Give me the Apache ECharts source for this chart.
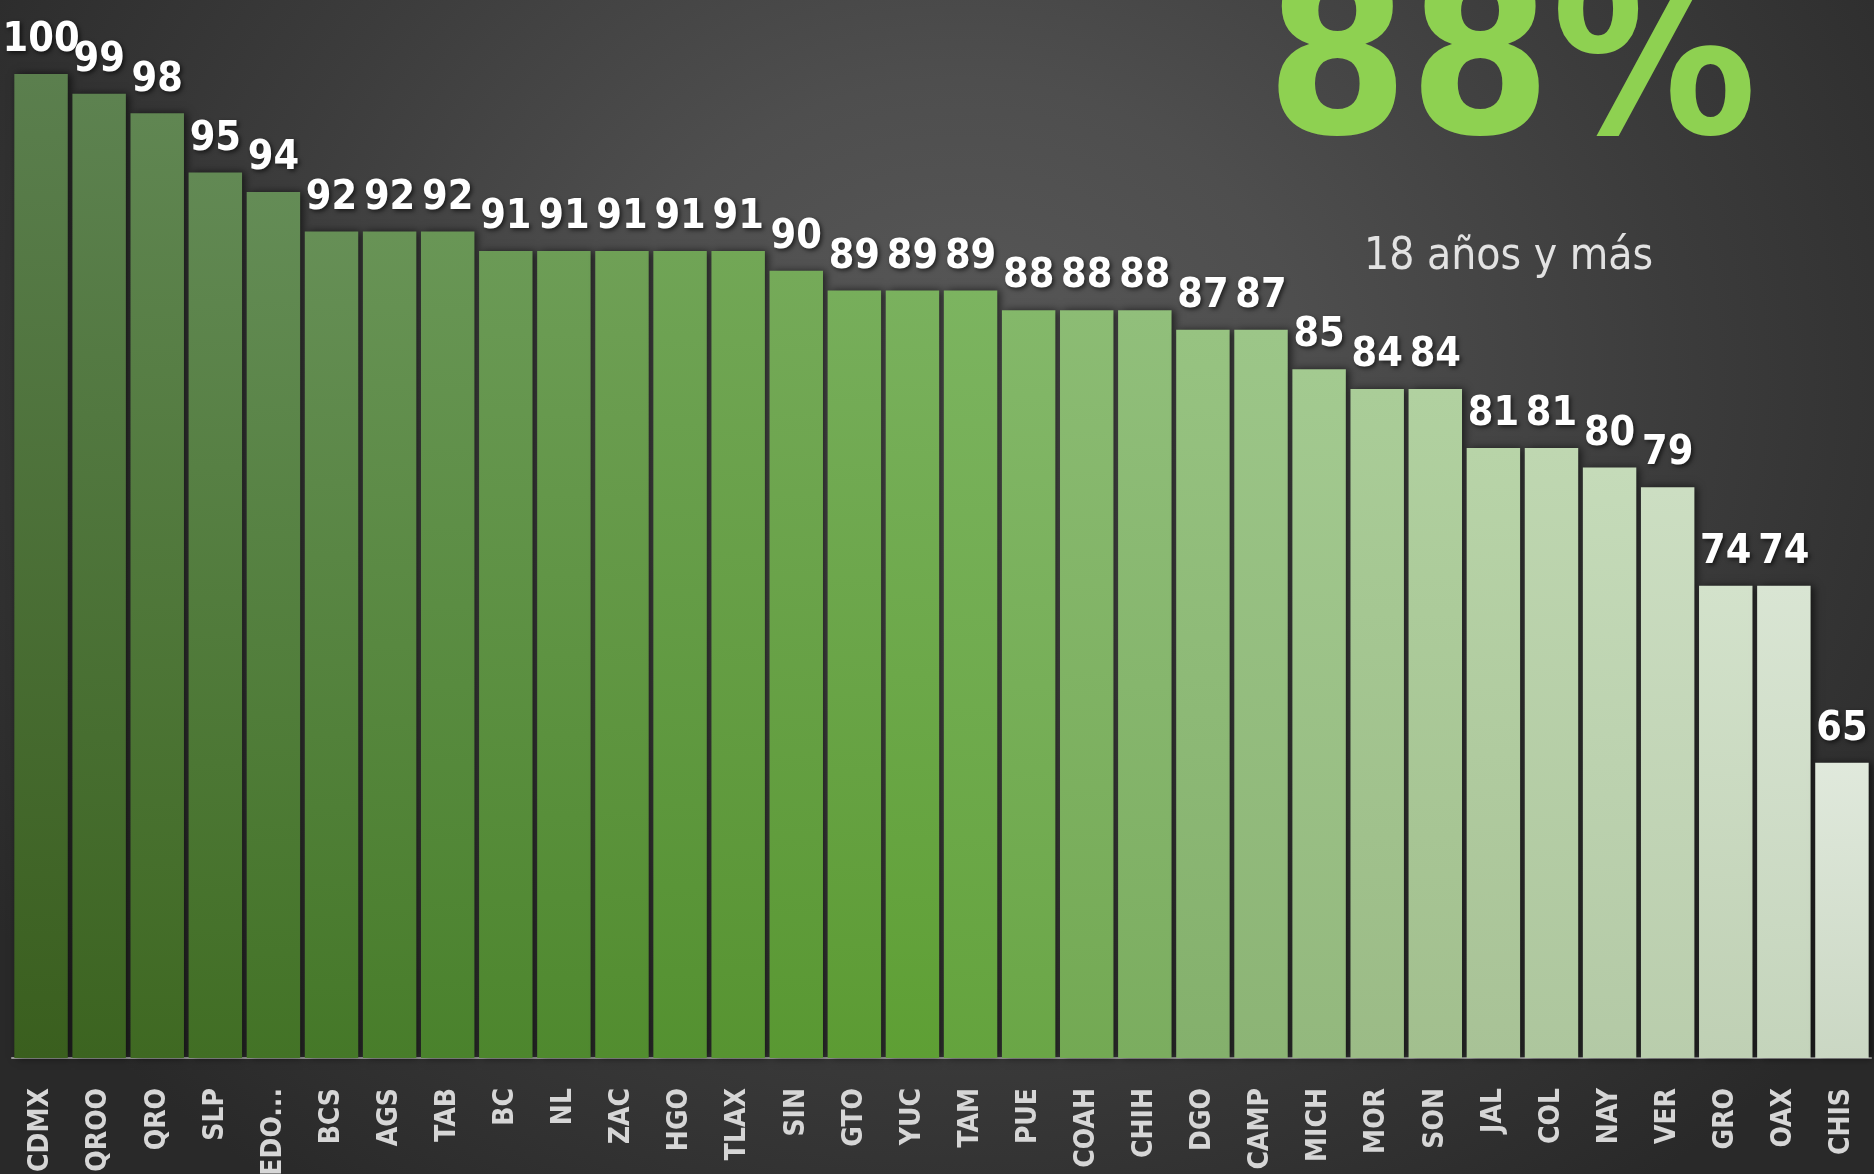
<!DOCTYPE html>
<html>
<head>
<meta charset="utf-8">
<script src="https://cdn.jsdelivr.net/npm/echarts@6/dist/echarts.min.js"></script>
<style>
  html, body {
    margin: 0;
    padding: 0;
    width: 100%;
    height: 100%;
    overflow: hidden;
    background: radial-gradient(ellipse 1150px 1000px at 960px 380px, #585858 0%, #4e4e4e 30%, #3c3c3c 62%, #292929 100%);
  }
  #chart {
    width: 1874px;
    height: 1174px;
  }
</style>
</head>
<body>
<div id="chart"></div>
<script>
// datos
const estados = ['CDMX', 'QROO', 'QRO', 'SLP', 'EDO...', 'BCS', 'AGS', 'TAB', 'BC', 'NL', 'ZAC', 'HGO', 'TLAX', 'SIN', 'GTO', 'YUC',
                 'TAM', 'PUE', 'COAH', 'CHIH', 'DGO', 'CAMP', 'MICH', 'MOR', 'SON', 'JAL', 'COL', 'NAY', 'VER', 'GRO', 'OAX', 'CHIS'];
const porcentajes = [100, 99, 98, 95, 94, 92, 92, 92, 91, 91, 91, 91, 91, 90, 89, 89,
                     89, 88, 88, 88, 87, 87, 85, 84, 84, 81, 81, 80, 79, 74, 74, 65];
const total = '88%';
const subtitulo = '18 años y más';

const FONT = "'DejaVu Sans Condensed', 'Liberation Sans Narrow', sans-serif";

// colores (abajo / arriba de cada barra)
const bottomAnchors = [[0, '#3a5f1e'], [7, '#4a822c'], [15, '#5e9f34'], [17, '#6aa646'], [20, '#84b06c'], [24, '#a2bf8e'], [31, '#cad7c3']];
const topAnchors = [[0, '#5b7f4e'], [4, '#648c56'], [12, '#72a756'], [16, '#7cb460'], [18, '#8cbc74'], [21, '#9cc688'], [25, '#b8d4a8'], [28, '#ccdec2'], [31, '#e0e9dc']];

function hexToRgb(h) {
  return [parseInt(h.slice(1, 3), 16), parseInt(h.slice(3, 5), 16), parseInt(h.slice(5, 7), 16)];
}
function pick(anchors, i) {
  for (let k = 0; k < anchors.length - 1; k++) {
    const [i0, c0] = anchors[k];
    const [i1, c1] = anchors[k + 1];
    if (i >= i0 && i <= i1) {
      const t = (i - i0) / (i1 - i0);
      const a = hexToRgb(c0), b = hexToRgb(c1);
      return 'rgb(' + a.map((v, j) => Math.round(v + (b[j] - v) * t)).join(',') + ')';
    }
  }
  return anchors[anchors.length - 1][1];
}

const chart = echarts.init(document.getElementById('chart'));

const option = {
  backgroundColor: 'transparent',
  animation: false,
  grid: {
    left: 12,
    right: 3,
    top: 74,
    bottom: 116,
    containLabel: false,
    outerBoundsMode: 'none'
  },
  xAxis: {
    type: 'category',
    data: estados,
    axisLine: {
      lineStyle: { color: '#a0a0a0', width: 2 }
    },
    axisTick: { show: false },
    axisLabel: {
      interval: 0,
      rotate: 90,
      margin: 30,
      color: '#d6d6d6',
      fontSize: 28,
      fontWeight: 'bold',
      fontFamily: FONT
    }
  },
  yAxis: {
    type: 'value',
    min: 50,
    max: 100,
    show: false,
    splitLine: { show: false }
  },
  series: [
    {
      type: 'bar',
      barCategoryGap: '8%',
      data: porcentajes.map((v, i) => ({
        value: v,
        itemStyle: {
          color: new echarts.graphic.LinearGradient(0, 0, 0, 1, [
            { offset: 0, color: pick(topAnchors, i) },
            { offset: 1, color: pick(bottomAnchors, i) }
          ])
        }
      })),
      itemStyle: {
        shadowColor: 'rgba(0, 0, 0, 0.6)',
        shadowBlur: 8,
        shadowOffsetX: 3
      },
      label: {
        show: true,
        position: 'top',
        distance: 13,
        color: '#ffffff',
        fontSize: 41,
        fontWeight: 'bold',
        fontFamily: FONT,
        textShadowColor: 'rgba(0, 0, 0, 0.6)',
        textShadowBlur: 4,
        textShadowOffsetX: 2,
        textShadowOffsetY: 2
      }
    }
  ],
  graphic: [
    {
      type: 'text',
      left: 1266,
      top: -40,
      style: {
        text: total,
        fill: '#8ed151',
        font: 'bold 228px ' + FONT,
        shadowColor: 'rgba(0, 0, 0, 0.6)',
        shadowBlur: 8,
        shadowOffsetX: 4,
        shadowOffsetY: 4
      }
    },
    {
      type: 'text',
      left: 1364,
      top: 236,
      style: {
        text: subtitulo,
        fill: '#e2e2e2',
        font: '44px ' + FONT
      }
    }
  ]
};

chart.setOption(option);

window.addEventListener('resize', () => chart.resize());
</script>
</body>
</html>
